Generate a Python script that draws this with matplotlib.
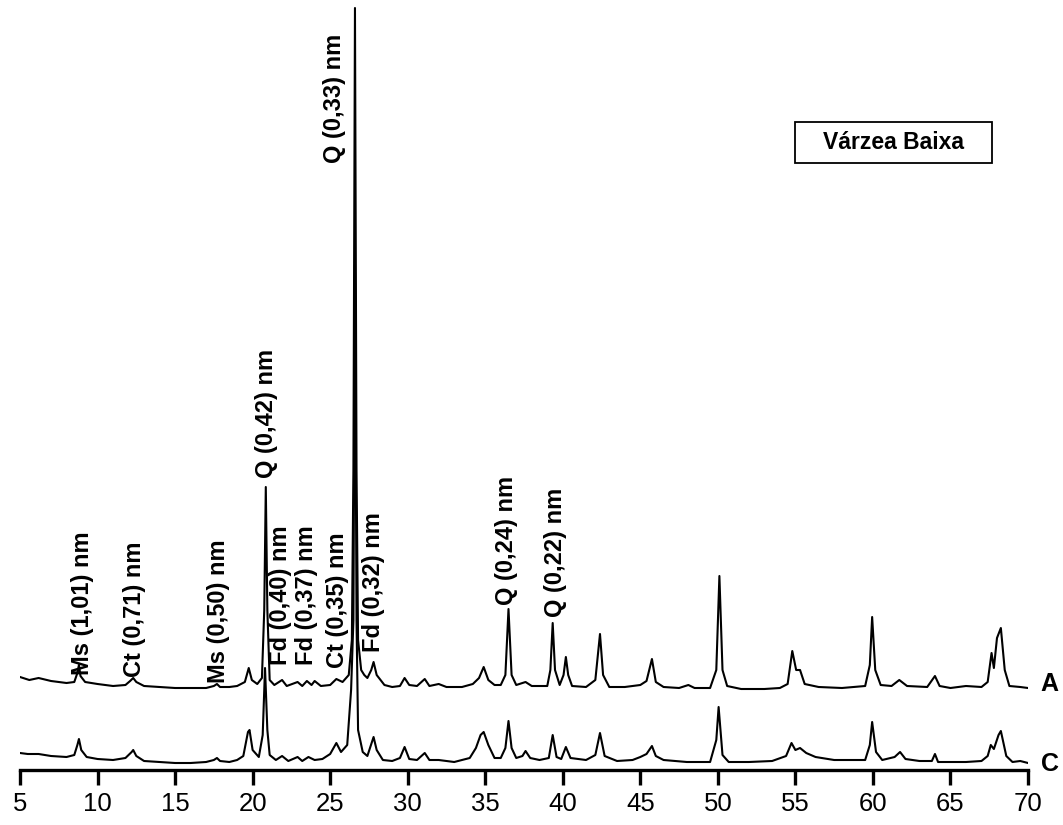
import matplotlib
matplotlib.use("Agg")
import matplotlib.pyplot as plt
from matplotlib.patches import Rectangle

plt.rcParams['font.family'] = ['Liberation Sans', 'DejaVu Sans']

# Pattern A (2theta, intensity above axis)
a_theta = [5.0, 5.6, 6.2, 7.0, 8.0, 8.5, 8.7, 8.8, 8.9, 9.2, 10.0, 11.0, 11.8, 12.1, 12.3, 12.5,
           13.0, 14.0, 15.0, 16.0, 17.0, 17.5, 17.7, 17.9, 18.5, 19.0, 19.5, 19.75, 19.95, 20.3,
           20.6, 20.75, 20.85, 20.95, 21.1, 21.4, 21.9, 22.2, 22.9, 23.2, 23.5, 23.8, 24.0, 24.4,
           25.0, 25.4, 25.8, 26.2, 26.4, 26.5, 26.6, 26.7, 26.8, 27.0, 27.2, 27.4, 27.65, 27.8,
           28.0, 28.5, 29.0, 29.5, 29.8, 30.1, 30.6, 31.1, 31.4, 32.0, 32.5, 33.5, 34.2, 34.6,
           34.9, 35.2, 35.6, 36.0, 36.3, 36.5, 36.7, 37.0, 37.6, 38.0, 39.0, 39.2, 39.35, 39.5,
           39.8, 40.05, 40.2, 40.35, 40.6, 41.5, 42.1, 42.4, 42.6, 43.0, 44.0, 45.0, 45.4, 45.75,
           46.0, 46.5, 47.5, 48.1, 48.5, 49.5, 49.9, 50.1, 50.3, 50.6, 51.5, 53.0, 54.0, 54.5,
           54.8, 55.05, 55.3, 55.6, 56.5, 58.0, 59.5, 59.8, 59.95, 60.15, 60.5, 61.2, 61.7, 62.2,
           63.5, 64.0, 64.3, 65.0, 66.0, 67.0, 67.4, 67.65, 67.8, 68.0, 68.25, 68.5, 68.8, 69.5,
           70.0]
a_int = [93, 90, 92, 89, 87, 88, 97, 105, 94, 88, 86, 84, 85, 89, 92, 88,
         84, 83, 82, 82, 82, 84, 86, 83, 83, 84, 88, 102, 90, 86,
         92, 160, 283, 160, 90, 85, 90, 84, 88, 84, 89, 85, 89, 84,
         85, 91, 88, 95, 130, 300, 762, 300, 130, 100, 95, 92, 100, 108,
         95, 85, 83, 84, 92, 85, 84, 91, 84, 86, 83, 83, 86, 92,
         103, 90, 85, 85, 95, 161, 95, 85, 88, 84, 84, 100, 147, 100,
         85, 95, 113, 95, 84, 83, 90, 136, 95, 83, 83, 85, 89, 111,
         88, 83, 82, 85, 82, 82, 100, 194, 100, 84, 81, 81, 82, 86,
         119, 100, 100, 86, 83, 82, 84, 105, 153, 100, 85, 84, 90, 84,
         83, 94, 84, 82, 84, 83, 88, 117, 102, 132, 142, 100, 84, 83,
         82]

# Pattern C
c_theta = [5.0, 5.5, 6.2, 7.0, 8.0, 8.5, 8.7, 8.8, 8.95, 9.3, 10.0, 11.0, 11.8, 12.2, 12.3, 12.5,
           13.0, 14.0, 15.0, 16.0, 17.0, 17.5, 17.7, 17.9, 18.5, 19.0, 19.4, 19.7, 19.8, 20.0,
           20.4, 20.65, 20.8, 20.95, 21.1, 21.5, 21.9, 22.3, 22.9, 23.2, 23.6, 24.0, 24.5, 25.0,
           25.4, 25.7, 26.1, 26.35, 26.5, 26.6, 26.7, 26.8, 27.1, 27.4, 27.65, 27.8, 28.0, 28.4,
           29.0, 29.5, 29.8, 30.1, 30.6, 31.1, 31.4, 32.0, 33.0, 34.0, 34.4, 34.7, 34.9, 35.2,
           35.6, 36.0, 36.3, 36.5, 36.7, 37.0, 37.4, 37.6, 37.9, 38.5, 39.1, 39.35, 39.6, 39.9,
           40.2, 40.5, 41.5, 42.1, 42.4, 42.7, 43.5, 44.5, 45.0, 45.4, 45.75, 46.0, 46.5, 48.0,
           49.5, 49.9, 50.05, 50.3, 50.7, 52.0, 53.5, 54.4, 54.75, 55.0, 55.3, 55.7, 56.3, 57.5,
           59.5, 59.8, 59.95, 60.2, 60.6, 61.4, 61.75, 62.1, 63.0, 63.8, 64.0, 64.2, 65.0, 66.0,
           67.0, 67.4, 67.6, 67.8, 68.1, 68.25, 68.6, 69.0, 69.5, 70.0]
c_int = [17, 16, 16, 14, 13, 15, 25, 31, 20, 13, 11, 10, 12, 18, 20, 14,
         9, 8, 7, 7, 8, 10, 12, 9, 8, 10, 14, 38, 40, 20,
         13, 35, 102, 40, 15, 10, 14, 9, 13, 9, 13, 10, 11, 16,
         27, 18, 25, 80, 150, 505, 150, 40, 18, 14, 26, 33, 20, 10,
         9, 12, 23, 11, 10, 17, 10, 10, 8, 12, 22, 35, 38, 25,
         12, 12, 22, 49, 22, 12, 14, 19, 12, 10, 12, 35, 13, 11,
         23, 12, 10, 15, 37, 14, 9, 10, 13, 16, 24, 14, 10, 8,
         8, 30, 63, 15, 8, 8, 9, 14, 27, 20, 22, 17, 13, 10,
         10, 25, 48, 18, 10, 13, 18, 11, 9, 9, 16, 8, 8, 8,
         9, 14, 25, 21, 35, 39, 14, 8, 9, 7]

# peak annotations: text, 2theta, height of the text foot
peak_labels = ["Ms (1,01) nm", "Ct (0,71) nm", "Ms (0,50) nm", "Q (0,42) nm", "Fd (0,40) nm",
               "Fd (0,37) nm", "Ct (0,35) nm", "Q (0,33) nm", "Fd (0,32) nm", "Q (0,24) nm",
               "Q (0,22) nm"]
label_theta = [9.0, 12.4, 17.8, 20.9, 21.8, 23.45, 25.5, 25.3, 27.8, 36.4, 39.5]
label_foot = [95, 93, 87, 292, 105, 105, 102, 607, 118, 165, 153]

xticks = list(range(5, 75, 5))

fig = plt.figure(figsize=(10.63, 8.25), dpi=100)
ax = fig.add_axes([20 / 1063, 55 / 825, 1008 / 1063, 770 / 825])

ax.plot(a_theta, a_int, color="black", lw=1.5)
ax.plot(c_theta, c_int, color="black", lw=1.5)

for txt, x, y in zip(peak_labels, label_theta, label_foot):
    ax.text(x, y, txt, rotation=90, ha="center", va="bottom",
            fontsize=17, fontweight="bold")

ax.text(71.4, 86, "A", ha="center", va="center", fontsize=18, fontweight="bold", clip_on=False)
ax.text(71.4, 6, "C", ha="center", va="center", fontsize=18, fontweight="bold", clip_on=False)

# sample name box
ax.add_patch(Rectangle((54.97, 607), 12.7, 41, fill=False, edgecolor="black", lw=1.3))
ax.text(61.32, 627.5, "Várzea Baixa", ha="center", va="center", fontsize=16.5, fontweight="bold")

ax.set_xlim(5, 70)
ax.set_ylim(0, 770)
for s in ["top", "right", "left"]:
    ax.spines[s].set_visible(False)
ax.spines["bottom"].set_linewidth(2.4)
ax.set_yticks([])
ax.set_xticks(xticks)
ax.tick_params(axis="x", direction="out", length=11, width=2.4, labelsize=18.5, pad=5)

fig.savefig("out.png", dpi=100)
